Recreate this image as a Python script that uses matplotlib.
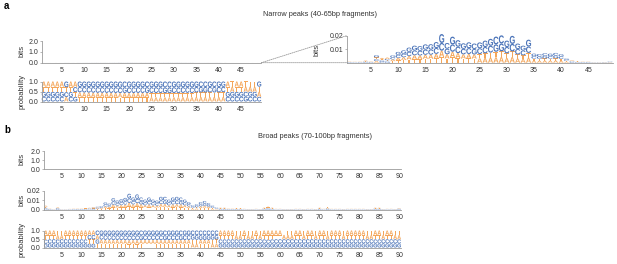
"""
Sequence logos for narrow and broad ATAC peak fragments.
Per-position base frequencies are drawn as probability logos and as
information-content (bits) logos, with a zoomed view of the narrow set.
"""

import numpy as np
import matplotlib
matplotlib.use("Agg")
import matplotlib.pyplot as plt
from matplotlib.textpath import TextPath
from matplotlib.font_manager import FontProperties
from matplotlib.patches import PathPatch, ConnectionPatch
from matplotlib.transforms import Affine2D


# ── data: base frequencies per position (%) ─────────────────────────────────
BASES = ["A", "C", "G", "T"]

NARROW_A = [26.2, 26.0, 26.0, 26.5, 26.2, 22.5, 28.0, 28.0, 24.0, 23.5,
            23.0, 23.0, 22.5, 22.0, 22.0, 22.2, 22.0, 22.0, 22.0, 21.8,
            22.0, 22.0, 21.8, 21.6, 21.3, 21.0, 20.8, 20.7, 20.5, 21.0,
            20.8, 21.5, 21.6, 21.2, 22.4, 22.4, 22.3, 22.5, 22.4, 22.2,
            23.0, 26.5, 25.8, 26.0, 26.0, 25.6, 25.6, 25.6, 25.0]
NARROW_C = [23.8, 24.0, 23.8, 23.5, 23.6, 24.0, 23.5, 25.0, 26.5, 27.0,
            27.5, 27.5, 28.0, 28.0, 28.0, 28.0, 28.3, 27.0, 29.2, 28.2,
            28.5, 28.3, 28.5, 28.6, 28.4, 28.5, 28.8, 29.8, 29.8, 28.5,
            28.2, 28.4, 28.2, 28.0, 27.2, 27.4, 27.5, 27.3, 27.6, 27.3,
            26.6, 23.5, 24.0, 24.0, 24.1, 24.4, 24.3, 24.2, 23.5]
NARROW_G = [24.4, 24.5, 24.6, 24.3, 24.6, 28.5, 24.0, 23.5, 27.5, 28.0,
            28.0, 28.5, 28.5, 28.5, 28.8, 28.8, 28.9, 31.0, 27.8, 29.8,
            29.0, 28.7, 28.7, 28.4, 28.8, 29.0, 29.0, 28.3, 28.5, 29.0,
            30.0, 28.6, 28.4, 29.6, 27.6, 27.3, 27.4, 27.5, 27.4, 27.3,
            26.6, 24.0, 24.2, 24.2, 24.1, 24.3, 24.4, 24.3, 25.8]
NARROW_T = [25.6, 25.5, 25.6, 25.7, 25.6, 25.0, 24.5, 23.5, 22.0, 21.5,
            21.5, 21.0, 21.0, 21.5, 21.2, 21.0, 20.8, 20.0, 21.0, 20.2,
            20.5, 21.0, 21.0, 21.4, 21.5, 21.5, 21.4, 21.2, 21.2, 21.5,
            21.0, 21.5, 21.8, 21.2, 22.8, 22.9, 22.8, 22.7, 22.6, 23.2,
            23.8, 26.0, 26.0, 25.8, 25.8, 25.7, 25.7, 25.9, 25.7]

BROAD_A = [27.5, 26.5, 26.0, 25.5, 25.3, 26.0, 26.3, 26.5, 26.5, 26.5,
           26.6, 26.5, 26.5, 25.5, 23.5, 23.0, 23.2, 22.0, 22.5, 22.2,
           22.0, 21.5, 22.0, 21.6, 22.0, 22.3, 22.0, 22.3, 22.5, 21.8,
           21.8, 22.2, 22.0, 21.8, 22.0, 22.3, 22.6, 23.0, 22.8, 22.6,
           22.3, 22.8, 23.0, 23.6, 26.8, 26.8, 26.5, 26.5, 25.5, 25.5,
           26.2, 25.4, 25.4, 26.2, 25.4, 26.8, 27.2, 26.8, 26.2, 26.2,
           25.4, 25.4, 25.4, 26.2, 26.2, 25.4, 26.2, 26.2, 25.4, 26.8,
           26.2, 25.7, 26.2, 26.2, 26.2, 25.4, 26.2, 26.2, 26.2, 26.2,
           26.2, 25.4, 25.4, 26.8, 26.8, 25.4, 26.2, 26.2, 25.4, 25.6]
BROAD_C = [24.0, 24.5, 24.7, 24.0, 24.7, 24.7, 24.5, 24.5, 24.6, 24.5,
           24.3, 25.8, 26.0, 27.0, 26.5, 27.0, 27.0, 27.8, 27.5, 27.7,
           28.0, 28.0, 28.0, 28.6, 28.6, 27.8, 28.2, 27.9, 27.8, 28.2,
           28.6, 27.8, 28.2, 28.3, 28.4, 27.8, 27.3, 27.2, 27.4, 27.9,
           28.0, 27.7, 27.0, 26.6, 24.4, 24.4, 24.5, 24.5, 24.5, 24.5,
           24.6, 24.6, 24.6, 24.6, 24.6, 24.4, 24.2, 24.4, 24.6, 24.6,
           24.6, 24.6, 24.6, 24.6, 24.6, 24.6, 24.6, 24.6, 24.6, 24.4,
           24.6, 24.3, 24.6, 24.6, 24.6, 24.6, 24.6, 24.6, 24.6, 24.6,
           24.6, 24.6, 24.6, 24.4, 24.4, 24.6, 24.6, 24.6, 24.6, 24.4]
BROAD_G = [22.5, 23.5, 24.0, 23.0, 24.0, 24.0, 24.0, 23.7, 23.5, 23.5,
           23.4, 23.0, 22.5, 25.0, 27.0, 28.0, 27.6, 28.6, 28.2, 28.4,
           28.5, 29.5, 28.6, 28.8, 28.0, 28.2, 28.4, 28.1, 27.9, 28.6,
           28.2, 28.2, 28.4, 28.5, 28.2, 28.2, 27.9, 26.8, 27.0, 27.3,
           27.6, 27.2, 26.8, 26.2, 23.2, 23.2, 23.5, 23.5, 23.5, 23.5,
           23.8, 23.8, 23.8, 23.8, 23.8, 23.2, 22.8, 23.2, 23.8, 23.8,
           23.8, 23.8, 23.8, 23.8, 23.8, 23.8, 23.8, 23.8, 23.8, 23.2,
           23.8, 23.0, 23.8, 23.8, 23.8, 23.8, 23.8, 23.8, 23.8, 23.8,
           23.8, 23.8, 23.8, 23.2, 23.2, 23.8, 23.8, 23.8, 23.8, 23.2]
BROAD_T = [26.0, 25.5, 25.3, 27.5, 26.0, 25.3, 25.2, 25.3, 25.4, 25.5,
           25.7, 24.7, 25.0, 22.5, 23.0, 22.0, 22.2, 21.6, 21.8, 21.7,
           21.5, 21.0, 21.4, 21.0, 21.4, 21.7, 21.4, 21.7, 21.8, 21.4,
           21.4, 21.8, 21.4, 21.4, 21.4, 21.7, 22.2, 23.0, 22.8, 22.2,
           22.1, 22.3, 23.2, 23.6, 25.6, 25.6, 25.5, 25.5, 26.5, 26.5,
           25.4, 26.2, 26.2, 25.4, 26.2, 25.6, 25.8, 25.6, 25.4, 25.4,
           26.2, 26.2, 26.2, 25.4, 25.4, 26.2, 25.4, 25.4, 26.2, 25.6,
           25.4, 27.0, 25.4, 25.4, 25.4, 26.2, 25.4, 25.4, 25.4, 25.4,
           25.4, 26.2, 26.2, 25.6, 25.6, 26.2, 25.4, 25.4, 26.2, 26.8]

NARROW_TICKS = [5, 10, 15, 20, 25, 30, 35, 40, 45]
BROAD_TICKS = [5, 10, 15, 20, 25, 30, 35, 40, 45, 50, 55, 60, 65, 70, 75, 80, 85, 90]

NARROW_TITLE = "Narrow peaks (40-65bp fragments)"
BROAD_TITLE = "Broad peaks (70-100bp fragments)"


# ── style ────────────────────────────────────────────────────────────────────
W, H = 617, 264
ORANGE = "#F4A65A"
BLUE = "#4A73B8"
SPINE = "#9a9a9a"
TEXT = "#333333"
COLORS = {"A": ORANGE, "T": ORANGE, "C": BLUE, "G": BLUE}

plt.rcParams["font.family"] = ["Liberation Sans", "DejaVu Sans"]
GLYPH_FONT = FontProperties(family="Liberation Sans", weight="bold")
GLYPHS = {b: TextPath((0, 0), b, size=1, prop=GLYPH_FONT) for b in BASES}


def rect(x0, y0, x1, y1):
    """Pixel box (top-left origin) -> figure fraction [l, b, w, h]."""
    return [x0 / W, 1 - y1 / H, (x1 - x0) / W, (y1 - y0) / H]


def freq_matrix(a, c, g, t):
    m = np.array([a, c, g, t], dtype=float).T
    return m / m.sum(axis=1, keepdims=True)


def bits_matrix(p):
    """Letter heights for an information-content logo."""
    ic = 2 + (p * np.log2(p)).sum(axis=1)
    return p * ic[:, None]


def draw_letter(ax, base, x, y, h, width=0.94):
    path = GLYPHS[base]
    ext = path.get_extents()
    tr = (Affine2D()
          .translate(-ext.x0, -ext.y0)
          .scale(width / ext.width, h / ext.height)
          .translate(x - width / 2, y))
    ax.add_patch(PathPatch(path, transform=tr + ax.transData,
                           fc=COLORS[base], ec="none", lw=0, clip_on=False))


def draw_logo(ax, heights):
    # smallest letter at the bottom, largest on top
    for i, row in enumerate(heights):
        y = 0.0
        for j in np.argsort(row, kind="stable"):
            if row[j] > 0:
                draw_letter(ax, BASES[j], i + 1, y, row[j])
            y += row[j]


def style_axis(ax, n, xticks, ylim, yticks, yticklabels):
    ax.set_xlim(0.5, n + 0.5)
    ax.set_ylim(*ylim)
    ax.set_xticks(xticks)
    ax.set_yticks(yticks)
    ax.set_yticklabels(yticklabels)
    for s in ["top", "right"]:
        ax.spines[s].set_visible(False)
    for s in ["left", "bottom"]:
        ax.spines[s].set_color(SPINE)
        ax.spines[s].set_linewidth(0.6)
    ax.tick_params(axis="x", length=0, pad=3, labelsize=5, labelcolor=TEXT)
    ax.tick_params(axis="y", length=1.5, width=0.5, pad=1, labelsize=5,
                   labelcolor=TEXT, color=SPINE)
    ax.patch.set_visible(False)


def ylabel(fig, x, y, text):
    fig.text(x / W, 1 - y / H, text, rotation=90, ha="center", va="center",
             fontsize=5.5, color=TEXT)


# ── figure ───────────────────────────────────────────────────────────────────
narrow_p = freq_matrix(NARROW_A, NARROW_C, NARROW_G, NARROW_T)
broad_p = freq_matrix(BROAD_A, BROAD_C, BROAD_G, BROAD_T)
narrow_bits = bits_matrix(narrow_p)
broad_bits = bits_matrix(broad_p)
n_narrow, n_broad = len(NARROW_A), len(BROAD_A)

fig = plt.figure(figsize=(W / 100, H / 100), dpi=100)

# panel a
ax_a_bits = fig.add_axes(rect(41.6, 41, 261.4, 62.7))
ax_a_prob = fig.add_axes(rect(41.6, 81.5, 261.4, 101.5))
ax_a_zoom = fig.add_axes(rect(346.6, 35.7, 612.7, 62.7))

style_axis(ax_a_bits, n_narrow, NARROW_TICKS, (0, 2), [0, 1, 2], ["0.0", "1.0", "2.0"])
style_axis(ax_a_prob, n_narrow, NARROW_TICKS, (0, 1), [0, 0.5, 1], ["0.0", "0.5", "1.0"])
style_axis(ax_a_zoom, n_narrow, NARROW_TICKS, (0, 0.02), [0.01, 0.02], ["0.01", "0.02"])
draw_logo(ax_a_bits, narrow_bits)
draw_logo(ax_a_prob, narrow_p)
draw_logo(ax_a_zoom, narrow_bits)

for yb in (0.02, 0.0):
    fig.add_artist(ConnectionPatch(
        xyA=(n_narrow + 0.5, 0), coordsA=ax_a_bits.transData,
        xyB=(0.5, yb), coordsB=ax_a_zoom.transData,
        color=SPINE, lw=0.6, ls=(0, (1.2, 1.2))))

ylabel(fig, 22, 51, "bits")
ylabel(fig, 22, 91, "probability")
ylabel(fig, 317, 50, "bits")
fig.text(4 / W, 1 - 6 / H, "a", fontsize=7, weight="bold", va="center")
fig.text(320 / W, 1 - 14 / H, NARROW_TITLE, ha="center", va="center",
         fontsize=5.3, color=TEXT)

# panel b
ax_b_bits = fig.add_axes(rect(43.8, 151, 401.1, 169.3))
ax_b_zoom = fig.add_axes(rect(43.8, 190.5, 401.1, 209.7))
ax_b_prob = fig.add_axes(rect(43.8, 230.5, 401.1, 247.5))

style_axis(ax_b_bits, n_broad, BROAD_TICKS, (0, 2), [0, 1, 2], ["0.0", "1.0", "2.0"])
style_axis(ax_b_zoom, n_broad, BROAD_TICKS, (0, 0.02), [0, 0.01, 0.02], ["0.0", "0.01", "0.02"])
style_axis(ax_b_prob, n_broad, BROAD_TICKS, (0, 1), [0, 0.5, 1], ["0.0", "0.5", "1.0"])
draw_logo(ax_b_bits, broad_bits)
draw_logo(ax_b_zoom, broad_bits)
draw_logo(ax_b_prob, broad_p)

ylabel(fig, 22, 159, "bits")
ylabel(fig, 22, 200, "bits")
ylabel(fig, 22, 239, "probability")
fig.text(4 / W, 1 - 130 / H, "b", fontsize=7, weight="bold", va="center")
fig.text(315 / W, 1 - 137 / H, BROAD_TITLE, ha="center", va="center",
         fontsize=5.3, color=TEXT)

fig.savefig("out.png", dpi=100)
